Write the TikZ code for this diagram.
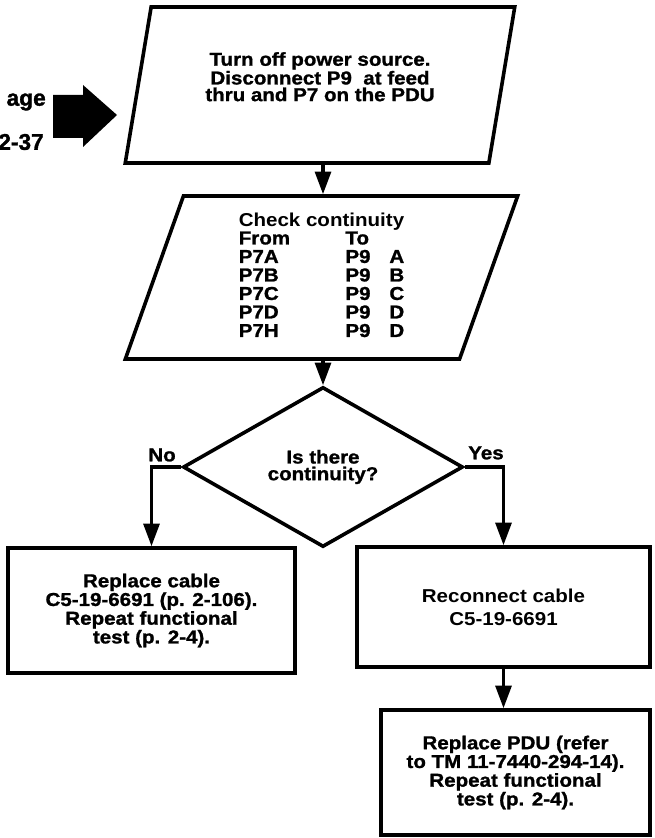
\documentclass[tikz,border=0pt]{standalone}
\usepackage{fontspec}
\setmainfont{Liberation Sans}[FakeStretch=1.1, BoldFeatures={FakeBold=1.2}]
\newfontface\semibold{Liberation Sans Bold}[FakeStretch=1.1]
\newfontface\pagefont{Liberation Sans Bold}[FakeBold=1.5]
\usetikzlibrary{shapes.geometric,arrows.meta}
\tikzset{
  txt/.style={font={\fontsize{14pt}{12.5pt}\selectfont\bfseries}},
  iobox/.style={trapezium, trapezium left angle=75, trapezium right angle=105, trapezium stretches=true, draw=black, line width=2.7pt, fill=white, align=center, inner sep=0pt, txt},
  decbox/.style={diamond, aspect=1.75, draw=black, line width=2.7pt, fill=white, align=center, inner sep=0pt, txt},
  actbox/.style={rectangle, draw=black, line width=2.7pt, fill=white, align=center, inner sep=0pt, txt},
  flowarrow/.style={-{Triangle[length=17pt, width=12pt]}, line width=2.4pt, black},
  lbl/.style={inner sep=0pt, align=center, txt},
  pagelbl/.style={inner sep=0pt, anchor=east, font={\fontsize{17pt}{17pt}\pagefont}}
}

\begin{document}
\begin{tikzpicture}[x=0.75pt, y=-0.75pt]
  \useasboundingbox (0,0) rectangle (655,838);

  % entry from the previous page
  \node[pagelbl] (pgname) at (46,102) {age};
  \node[pagelbl] (pgnum) at (44,142) {2-37};
  \fill[black] (53,95) -- (83,95) -- (83,85) -- (117,115) -- (83,147) -- (83,138) -- (53,138) -- cycle;

  % flow boxes (empty last line lifts the text a little)
  \node[iobox, minimum width=292.5pt, minimum height=117pt] (poweroff) at (320,85)
    {Turn off power source.\\Disconnect P9\ \ at feed\\thru and P7 on the PDU\\[0pt]\mbox{}};
  \node[iobox, minimum width=294.75pt, minimum height=122.25pt,
        font={\fontsize{14pt}{13.7pt}\selectfont\bfseries}] (check) at (321.5,277.5) {%
    \begin{tabular}{@{}p{80pt}@{}p{33pt}@{}l@{}}
      \multicolumn{3}{@{}l@{}}{\semibold Check continuity}\\
      From & To & \\
      P7A & P9 & A\\
      P7B & P9 & B\\
      P7C & P9 & C\\
      P7D & P9 & D\\
      P7H & P9 & D
    \end{tabular}};
  \node[decbox, minimum width=210pt, minimum height=120pt] (contq) at (323,467)
    {Is there\\continuity?};
  \node[actbox, minimum width=215.25pt, minimum height=93.75pt] (repcable) at (151.5,610.5)
    {Replace cable\\C5-19-6691 (p. 2-106).\\Repeat functional\\test (p. 2-4).};
  \node[actbox, minimum width=219.75pt, minimum height=90pt,
        font={\fontsize{14pt}{17pt}\selectfont\semibold}] (reconn) at (503.5,607)
    {Reconnect cable\\C5-19-6691};
  \node[actbox, minimum width=201.75pt, minimum height=93.75pt] (reppdu) at (515.5,772.5)
    {Replace PDU (refer\\to TM 11-7440-294-14).\\Repeat functional\\test (p. 2-4).};

  % connectors
  \draw[flowarrow] (poweroff.south -| contq.north) -- (check.north -| contq.north);
  \draw[flowarrow] (check.south -| contq.north) -- (contq.north);
  \draw[flowarrow] (contq.west) -| (repcable.north);
  \draw[flowarrow] (contq.east) -| (reconn.north);
  \draw[flowarrow] (reconn.south) -- (reconn.south |- reppdu.north);

  \node[lbl] (nolbl) at (162,455) {No};
  \node[lbl] (yeslbl) at (486,453) {Yes};
\end{tikzpicture}
\end{document}
